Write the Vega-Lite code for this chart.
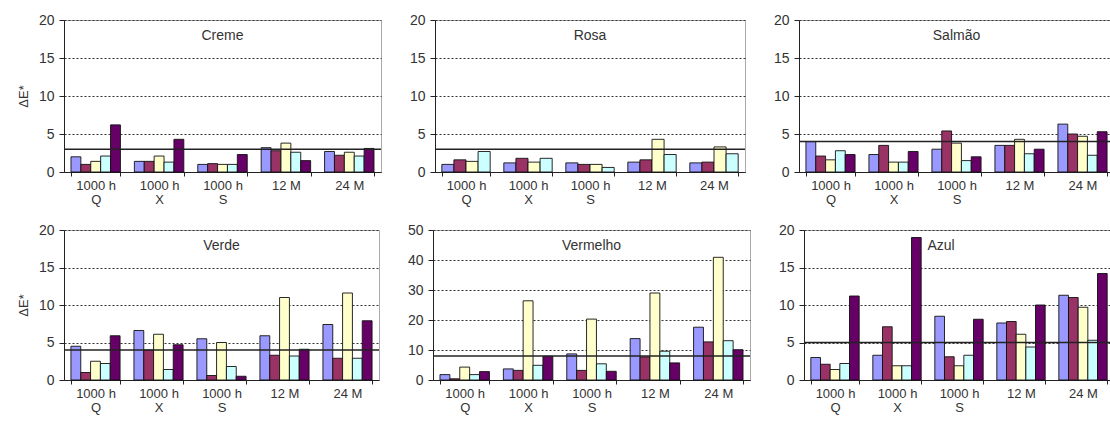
{
  "$schema": "https://vega.github.io/schema/vega-lite/v6.json",
  "background": "white",
  "padding": {"left": 16, "top": 12, "right": 0, "bottom": 0},
  "config": {
    "font": "Liberation Sans",
    "view": {"stroke": "#aaaaaa", "strokeWidth": 1},
    "axis": {"labelFont": "Liberation Sans", "labelColor": "#333333", "domainColor": "#222222", "tickColor": "#222222", "titleFont": "Liberation Sans", "titleFontWeight": "normal", "titleFontSize": 13, "titleColor": "#333333"},
    "axisY": {"labelFontSize": 14, "tickSize": 5, "labelPadding": 5, "grid": true, "gridDash": [2, 2], "gridColor": "#333333"},
    "axisX": {"labelFontSize": 13, "title": null, "labelAngle": 0, "labelExpr": "split(datum.label, '|')", "tickBand": "extent", "tickSize": 4, "labelPadding": 3, "labelLineHeight": 14},
    "title": {"font": "Liberation Sans", "fontSize": 14, "fontWeight": "normal", "color": "#333333"},
    "bar": {"stroke": "#111111", "strokeWidth": 0.9},
    "rule": {"color": "#222222", "strokeWidth": 1.5}
  },
  "datasets": {
    "barras": [
      {"painel": "Creme", "grupo": "1000 h|Q", "serie": "1", "valor": 2.0},
      {"painel": "Creme", "grupo": "1000 h|Q", "serie": "2", "valor": 1.0},
      {"painel": "Creme", "grupo": "1000 h|Q", "serie": "3", "valor": 1.4},
      {"painel": "Creme", "grupo": "1000 h|Q", "serie": "4", "valor": 2.1},
      {"painel": "Creme", "grupo": "1000 h|Q", "serie": "5", "valor": 6.2},
      {"painel": "Creme", "grupo": "1000 h|X", "serie": "1", "valor": 1.4},
      {"painel": "Creme", "grupo": "1000 h|X", "serie": "2", "valor": 1.4},
      {"painel": "Creme", "grupo": "1000 h|X", "serie": "3", "valor": 2.1},
      {"painel": "Creme", "grupo": "1000 h|X", "serie": "4", "valor": 1.3},
      {"painel": "Creme", "grupo": "1000 h|X", "serie": "5", "valor": 4.3},
      {"painel": "Creme", "grupo": "1000 h|S", "serie": "1", "valor": 1.0},
      {"painel": "Creme", "grupo": "1000 h|S", "serie": "2", "valor": 1.1},
      {"painel": "Creme", "grupo": "1000 h|S", "serie": "3", "valor": 1.0},
      {"painel": "Creme", "grupo": "1000 h|S", "serie": "4", "valor": 1.0},
      {"painel": "Creme", "grupo": "1000 h|S", "serie": "5", "valor": 2.3},
      {"painel": "Creme", "grupo": "12 M", "serie": "1", "valor": 3.2},
      {"painel": "Creme", "grupo": "12 M", "serie": "2", "valor": 2.8},
      {"painel": "Creme", "grupo": "12 M", "serie": "3", "valor": 3.8},
      {"painel": "Creme", "grupo": "12 M", "serie": "4", "valor": 2.6},
      {"painel": "Creme", "grupo": "12 M", "serie": "5", "valor": 1.5},
      {"painel": "Creme", "grupo": "24 M", "serie": "1", "valor": 2.7},
      {"painel": "Creme", "grupo": "24 M", "serie": "2", "valor": 2.2},
      {"painel": "Creme", "grupo": "24 M", "serie": "3", "valor": 2.6},
      {"painel": "Creme", "grupo": "24 M", "serie": "4", "valor": 2.1},
      {"painel": "Creme", "grupo": "24 M", "serie": "5", "valor": 3.1},

      {"painel": "Rosa", "grupo": "1000 h|Q", "serie": "1", "valor": 1.0},
      {"painel": "Rosa", "grupo": "1000 h|Q", "serie": "2", "valor": 1.6},
      {"painel": "Rosa", "grupo": "1000 h|Q", "serie": "3", "valor": 1.4},
      {"painel": "Rosa", "grupo": "1000 h|Q", "serie": "4", "valor": 2.7},
      {"painel": "Rosa", "grupo": "1000 h|X", "serie": "1", "valor": 1.2},
      {"painel": "Rosa", "grupo": "1000 h|X", "serie": "2", "valor": 1.8},
      {"painel": "Rosa", "grupo": "1000 h|X", "serie": "3", "valor": 1.3},
      {"painel": "Rosa", "grupo": "1000 h|X", "serie": "4", "valor": 1.8},
      {"painel": "Rosa", "grupo": "1000 h|S", "serie": "1", "valor": 1.2},
      {"painel": "Rosa", "grupo": "1000 h|S", "serie": "2", "valor": 1.0},
      {"painel": "Rosa", "grupo": "1000 h|S", "serie": "3", "valor": 1.0},
      {"painel": "Rosa", "grupo": "1000 h|S", "serie": "4", "valor": 0.6},
      {"painel": "Rosa", "grupo": "12 M", "serie": "1", "valor": 1.3},
      {"painel": "Rosa", "grupo": "12 M", "serie": "2", "valor": 1.6},
      {"painel": "Rosa", "grupo": "12 M", "serie": "3", "valor": 4.3},
      {"painel": "Rosa", "grupo": "12 M", "serie": "4", "valor": 2.3},
      {"painel": "Rosa", "grupo": "24 M", "serie": "1", "valor": 1.2},
      {"painel": "Rosa", "grupo": "24 M", "serie": "2", "valor": 1.3},
      {"painel": "Rosa", "grupo": "24 M", "serie": "3", "valor": 3.3},
      {"painel": "Rosa", "grupo": "24 M", "serie": "4", "valor": 2.4},

      {"painel": "Salmão", "grupo": "1000 h|Q", "serie": "1", "valor": 4.0},
      {"painel": "Salmão", "grupo": "1000 h|Q", "serie": "2", "valor": 2.1},
      {"painel": "Salmão", "grupo": "1000 h|Q", "serie": "3", "valor": 1.6},
      {"painel": "Salmão", "grupo": "1000 h|Q", "serie": "4", "valor": 2.8},
      {"painel": "Salmão", "grupo": "1000 h|Q", "serie": "5", "valor": 2.3},
      {"painel": "Salmão", "grupo": "1000 h|X", "serie": "1", "valor": 2.3},
      {"painel": "Salmão", "grupo": "1000 h|X", "serie": "2", "valor": 3.5},
      {"painel": "Salmão", "grupo": "1000 h|X", "serie": "3", "valor": 1.3},
      {"painel": "Salmão", "grupo": "1000 h|X", "serie": "4", "valor": 1.3},
      {"painel": "Salmão", "grupo": "1000 h|X", "serie": "5", "valor": 2.7},
      {"painel": "Salmão", "grupo": "1000 h|S", "serie": "1", "valor": 3.0},
      {"painel": "Salmão", "grupo": "1000 h|S", "serie": "2", "valor": 5.4},
      {"painel": "Salmão", "grupo": "1000 h|S", "serie": "3", "valor": 3.8},
      {"painel": "Salmão", "grupo": "1000 h|S", "serie": "4", "valor": 1.5},
      {"painel": "Salmão", "grupo": "1000 h|S", "serie": "5", "valor": 2.0},
      {"painel": "Salmão", "grupo": "12 M", "serie": "1", "valor": 3.5},
      {"painel": "Salmão", "grupo": "12 M", "serie": "2", "valor": 3.5},
      {"painel": "Salmão", "grupo": "12 M", "serie": "3", "valor": 4.3},
      {"painel": "Salmão", "grupo": "12 M", "serie": "4", "valor": 2.4},
      {"painel": "Salmão", "grupo": "12 M", "serie": "5", "valor": 3.0},
      {"painel": "Salmão", "grupo": "24 M", "serie": "1", "valor": 6.3},
      {"painel": "Salmão", "grupo": "24 M", "serie": "2", "valor": 5.0},
      {"painel": "Salmão", "grupo": "24 M", "serie": "3", "valor": 4.7},
      {"painel": "Salmão", "grupo": "24 M", "serie": "4", "valor": 2.2},
      {"painel": "Salmão", "grupo": "24 M", "serie": "5", "valor": 5.3},

      {"painel": "Verde", "grupo": "1000 h|Q", "serie": "1", "valor": 4.5},
      {"painel": "Verde", "grupo": "1000 h|Q", "serie": "2", "valor": 1.0},
      {"painel": "Verde", "grupo": "1000 h|Q", "serie": "3", "valor": 2.5},
      {"painel": "Verde", "grupo": "1000 h|Q", "serie": "4", "valor": 2.2},
      {"painel": "Verde", "grupo": "1000 h|Q", "serie": "5", "valor": 5.9},
      {"painel": "Verde", "grupo": "1000 h|X", "serie": "1", "valor": 6.6},
      {"painel": "Verde", "grupo": "1000 h|X", "serie": "2", "valor": 4.0},
      {"painel": "Verde", "grupo": "1000 h|X", "serie": "3", "valor": 6.1},
      {"painel": "Verde", "grupo": "1000 h|X", "serie": "4", "valor": 1.4},
      {"painel": "Verde", "grupo": "1000 h|X", "serie": "5", "valor": 4.7},
      {"painel": "Verde", "grupo": "1000 h|S", "serie": "1", "valor": 5.5},
      {"painel": "Verde", "grupo": "1000 h|S", "serie": "2", "valor": 0.6},
      {"painel": "Verde", "grupo": "1000 h|S", "serie": "3", "valor": 5.0},
      {"painel": "Verde", "grupo": "1000 h|S", "serie": "4", "valor": 1.8},
      {"painel": "Verde", "grupo": "1000 h|S", "serie": "5", "valor": 0.5},
      {"painel": "Verde", "grupo": "12 M", "serie": "1", "valor": 5.9},
      {"painel": "Verde", "grupo": "12 M", "serie": "2", "valor": 3.3},
      {"painel": "Verde", "grupo": "12 M", "serie": "3", "valor": 11.0},
      {"painel": "Verde", "grupo": "12 M", "serie": "4", "valor": 3.2},
      {"painel": "Verde", "grupo": "12 M", "serie": "5", "valor": 4.1},
      {"painel": "Verde", "grupo": "24 M", "serie": "1", "valor": 7.4},
      {"painel": "Verde", "grupo": "24 M", "serie": "2", "valor": 2.9},
      {"painel": "Verde", "grupo": "24 M", "serie": "3", "valor": 11.6},
      {"painel": "Verde", "grupo": "24 M", "serie": "4", "valor": 2.9},
      {"painel": "Verde", "grupo": "24 M", "serie": "5", "valor": 7.9},

      {"painel": "Vermelho", "grupo": "1000 h|Q", "serie": "1", "valor": 1.8},
      {"painel": "Vermelho", "grupo": "1000 h|Q", "serie": "2", "valor": 0.4},
      {"painel": "Vermelho", "grupo": "1000 h|Q", "serie": "3", "valor": 4.3},
      {"painel": "Vermelho", "grupo": "1000 h|Q", "serie": "4", "valor": 1.8},
      {"painel": "Vermelho", "grupo": "1000 h|Q", "serie": "5", "valor": 2.8},
      {"painel": "Vermelho", "grupo": "1000 h|X", "serie": "1", "valor": 3.7},
      {"painel": "Vermelho", "grupo": "1000 h|X", "serie": "2", "valor": 3.2},
      {"painel": "Vermelho", "grupo": "1000 h|X", "serie": "3", "valor": 26.4},
      {"painel": "Vermelho", "grupo": "1000 h|X", "serie": "4", "valor": 4.9},
      {"painel": "Vermelho", "grupo": "1000 h|X", "serie": "5", "valor": 7.9},
      {"painel": "Vermelho", "grupo": "1000 h|S", "serie": "1", "valor": 8.7},
      {"painel": "Vermelho", "grupo": "1000 h|S", "serie": "2", "valor": 3.2},
      {"painel": "Vermelho", "grupo": "1000 h|S", "serie": "3", "valor": 20.3},
      {"painel": "Vermelho", "grupo": "1000 h|S", "serie": "4", "valor": 5.4},
      {"painel": "Vermelho", "grupo": "1000 h|S", "serie": "5", "valor": 2.9},
      {"painel": "Vermelho", "grupo": "12 M", "serie": "1", "valor": 13.8},
      {"painel": "Vermelho", "grupo": "12 M", "serie": "2", "valor": 7.7},
      {"painel": "Vermelho", "grupo": "12 M", "serie": "3", "valor": 29.0},
      {"painel": "Vermelho", "grupo": "12 M", "serie": "4", "valor": 9.6},
      {"painel": "Vermelho", "grupo": "12 M", "serie": "5", "valor": 5.7},
      {"painel": "Vermelho", "grupo": "24 M", "serie": "1", "valor": 17.6},
      {"painel": "Vermelho", "grupo": "24 M", "serie": "2", "valor": 12.7},
      {"painel": "Vermelho", "grupo": "24 M", "serie": "3", "valor": 40.9},
      {"painel": "Vermelho", "grupo": "24 M", "serie": "4", "valor": 13.1},
      {"painel": "Vermelho", "grupo": "24 M", "serie": "5", "valor": 10.1},

      {"painel": "Azul", "grupo": "1000 h|Q", "serie": "1", "valor": 3.0},
      {"painel": "Azul", "grupo": "1000 h|Q", "serie": "2", "valor": 2.1},
      {"painel": "Azul", "grupo": "1000 h|Q", "serie": "3", "valor": 1.4},
      {"painel": "Azul", "grupo": "1000 h|Q", "serie": "4", "valor": 2.2},
      {"painel": "Azul", "grupo": "1000 h|Q", "serie": "5", "valor": 11.2},
      {"painel": "Azul", "grupo": "1000 h|X", "serie": "1", "valor": 3.3},
      {"painel": "Azul", "grupo": "1000 h|X", "serie": "2", "valor": 7.1},
      {"painel": "Azul", "grupo": "1000 h|X", "serie": "3", "valor": 1.9},
      {"painel": "Azul", "grupo": "1000 h|X", "serie": "4", "valor": 1.9},
      {"painel": "Azul", "grupo": "1000 h|X", "serie": "5", "valor": 19.0},
      {"painel": "Azul", "grupo": "1000 h|S", "serie": "1", "valor": 8.5},
      {"painel": "Azul", "grupo": "1000 h|S", "serie": "2", "valor": 3.1},
      {"painel": "Azul", "grupo": "1000 h|S", "serie": "3", "valor": 1.9},
      {"painel": "Azul", "grupo": "1000 h|S", "serie": "4", "valor": 3.3},
      {"painel": "Azul", "grupo": "1000 h|S", "serie": "5", "valor": 8.1},
      {"painel": "Azul", "grupo": "12 M", "serie": "1", "valor": 7.6},
      {"painel": "Azul", "grupo": "12 M", "serie": "2", "valor": 7.8},
      {"painel": "Azul", "grupo": "12 M", "serie": "3", "valor": 6.1},
      {"painel": "Azul", "grupo": "12 M", "serie": "4", "valor": 4.4},
      {"painel": "Azul", "grupo": "12 M", "serie": "5", "valor": 10.0},
      {"painel": "Azul", "grupo": "24 M", "serie": "1", "valor": 11.3},
      {"painel": "Azul", "grupo": "24 M", "serie": "2", "valor": 11.0},
      {"painel": "Azul", "grupo": "24 M", "serie": "3", "valor": 9.7},
      {"painel": "Azul", "grupo": "24 M", "serie": "4", "valor": 5.3},
      {"painel": "Azul", "grupo": "24 M", "serie": "5", "valor": 14.2}
    ],
    "limites": [
      {"painel": "Creme", "limite": 3},
      {"painel": "Rosa", "limite": 3},
      {"painel": "Salmão", "limite": 4},
      {"painel": "Verde", "limite": 4},
      {"painel": "Vermelho", "limite": 8},
      {"painel": "Azul", "limite": 5}
    ]
  },
  "spacing": 15,
  "resolve": {"scale": {"xOffset": "independent", "y": "independent"}},
  "vconcat": [
    {
      "spacing": 25,
      "resolve": {"scale": {"xOffset": "independent", "y": "independent"}},
      "hconcat": [
        {
          "width": 317, "height": 152,
          "title": {"text": "Creme", "offset": -30, "anchor": "middle"},
          "layer": [
            {"data": {"name": "barras"}, "transform": [{"filter": "datum.painel === 'Creme'"}],
             "mark": "bar",
             "encoding": {
               "x": {"field": "grupo", "type": "nominal", "sort": null, "scale": {"paddingInner": 0.22, "paddingOuter": 0.11}},
               "xOffset": {"field": "serie", "type": "nominal", "sort": null},
               "y": {"field": "valor", "type": "quantitative", "scale": {"domain": [0, 20]}, "axis": {"title": "ΔE*", "titlePadding": 8, "values": [0, 5, 10, 15, 20]}},
               "color": {"field": "serie", "type": "nominal", "scale": {"domain": ["1", "2", "3", "4", "5"], "range": ["#9999FF", "#993366", "#FFFFCC", "#CCFFFF", "#660066"]}, "legend": null}
             }},
            {"data": {"name": "limites"}, "transform": [{"filter": "datum.painel === 'Creme'"}],
             "mark": "rule",
             "encoding": {"y": {"field": "limite", "type": "quantitative", "axis": {"title": "ΔE*", "titlePadding": 8, "values": [0, 5, 10, 15, 20]}}}}
          ]
        },
        {
          "width": 310, "height": 152,
          "title": {"text": "Rosa", "offset": -30, "anchor": "middle"},
          "layer": [
            {"data": {"name": "barras"}, "transform": [{"filter": "datum.painel === 'Rosa'"}],
             "mark": "bar",
             "encoding": {
               "x": {"field": "grupo", "type": "nominal", "sort": null, "scale": {"paddingInner": 0.22, "paddingOuter": 0.11}},
               "xOffset": {"field": "serie", "type": "nominal", "sort": null},
               "y": {"field": "valor", "type": "quantitative", "scale": {"domain": [0, 20]}, "axis": {"title": null, "values": [0, 5, 10, 15, 20]}},
               "color": {"field": "serie", "type": "nominal", "scale": {"domain": ["1", "2", "3", "4", "5"], "range": ["#9999FF", "#993366", "#FFFFCC", "#CCFFFF", "#660066"]}, "legend": null}
             }},
            {"data": {"name": "limites"}, "transform": [{"filter": "datum.painel === 'Rosa'"}],
             "mark": "rule",
             "encoding": {"y": {"field": "limite", "type": "quantitative", "axis": {"title": null, "values": [0, 5, 10, 15, 20]}}}}
          ]
        },
        {
          "width": 315, "height": 152,
          "title": {"text": "Salmão", "offset": -30, "anchor": "middle"},
          "layer": [
            {"data": {"name": "barras"}, "transform": [{"filter": "datum.painel === 'Salmão'"}],
             "mark": "bar",
             "encoding": {
               "x": {"field": "grupo", "type": "nominal", "sort": null, "scale": {"paddingInner": 0.22, "paddingOuter": 0.11}},
               "xOffset": {"field": "serie", "type": "nominal", "sort": null},
               "y": {"field": "valor", "type": "quantitative", "scale": {"domain": [0, 20]}, "axis": {"title": null, "values": [0, 5, 10, 15, 20]}},
               "color": {"field": "serie", "type": "nominal", "scale": {"domain": ["1", "2", "3", "4", "5"], "range": ["#9999FF", "#993366", "#FFFFCC", "#CCFFFF", "#660066"]}, "legend": null}
             }},
            {"data": {"name": "limites"}, "transform": [{"filter": "datum.painel === 'Salmão'"}],
             "mark": "rule",
             "encoding": {"y": {"field": "limite", "type": "quantitative", "axis": {"title": null, "values": [0, 5, 10, 15, 20]}}}}
          ]
        }
      ]
    },
    {
      "spacing": 25,
      "resolve": {"scale": {"xOffset": "independent", "y": "independent"}},
      "hconcat": [
        {
          "width": 315, "height": 150,
          "title": {"text": "Verde", "offset": -30, "anchor": "middle"},
          "layer": [
            {"data": {"name": "barras"}, "transform": [{"filter": "datum.painel === 'Verde'"}],
             "mark": "bar",
             "encoding": {
               "x": {"field": "grupo", "type": "nominal", "sort": null, "scale": {"paddingInner": 0.22, "paddingOuter": 0.11}},
               "xOffset": {"field": "serie", "type": "nominal", "sort": null},
               "y": {"field": "valor", "type": "quantitative", "scale": {"domain": [0, 20]}, "axis": {"title": "ΔE*", "titlePadding": 8, "values": [0, 5, 10, 15, 20]}},
               "color": {"field": "serie", "type": "nominal", "scale": {"domain": ["1", "2", "3", "4", "5"], "range": ["#9999FF", "#993366", "#FFFFCC", "#CCFFFF", "#660066"]}, "legend": null}
             }},
            {"data": {"name": "limites"}, "transform": [{"filter": "datum.painel === 'Verde'"}],
             "mark": "rule",
             "encoding": {"y": {"field": "limite", "type": "quantitative", "axis": {"title": "ΔE*", "titlePadding": 8, "values": [0, 5, 10, 15, 20]}}}}
          ]
        },
        {
          "width": 317, "height": 150,
          "title": {"text": "Vermelho", "offset": -30, "anchor": "middle"},
          "layer": [
            {"data": {"name": "barras"}, "transform": [{"filter": "datum.painel === 'Vermelho'"}],
             "mark": "bar",
             "encoding": {
               "x": {"field": "grupo", "type": "nominal", "sort": null, "scale": {"paddingInner": 0.22, "paddingOuter": 0.11}},
               "xOffset": {"field": "serie", "type": "nominal", "sort": null},
               "y": {"field": "valor", "type": "quantitative", "scale": {"domain": [0, 50]}, "axis": {"title": null, "values": [0, 10, 20, 30, 40, 50]}},
               "color": {"field": "serie", "type": "nominal", "scale": {"domain": ["1", "2", "3", "4", "5"], "range": ["#9999FF", "#993366", "#FFFFCC", "#CCFFFF", "#660066"]}, "legend": null}
             }},
            {"data": {"name": "limites"}, "transform": [{"filter": "datum.painel === 'Vermelho'"}],
             "mark": "rule",
             "encoding": {"y": {"field": "limite", "type": "quantitative", "axis": {"title": null, "values": [0, 10, 20, 30, 40, 50]}}}}
          ]
        },
        {
          "width": 310, "height": 150,
          "title": {"text": "Azul", "offset": -30, "anchor": "middle", "dx": -18},
          "layer": [
            {"data": {"name": "barras"}, "transform": [{"filter": "datum.painel === 'Azul'"}],
             "mark": "bar",
             "encoding": {
               "x": {"field": "grupo", "type": "nominal", "sort": null, "scale": {"paddingInner": 0.22, "paddingOuter": 0.11}},
               "xOffset": {"field": "serie", "type": "nominal", "sort": null},
               "y": {"field": "valor", "type": "quantitative", "scale": {"domain": [0, 20]}, "axis": {"title": null, "values": [0, 5, 10, 15, 20]}},
               "color": {"field": "serie", "type": "nominal", "scale": {"domain": ["1", "2", "3", "4", "5"], "range": ["#9999FF", "#993366", "#FFFFCC", "#CCFFFF", "#660066"]}, "legend": null}
             }},
            {"data": {"name": "limites"}, "transform": [{"filter": "datum.painel === 'Azul'"}],
             "mark": "rule",
             "encoding": {"y": {"field": "limite", "type": "quantitative", "axis": {"title": null, "values": [0, 5, 10, 15, 20]}}}}
          ]
        }
      ]
    }
  ]
}
